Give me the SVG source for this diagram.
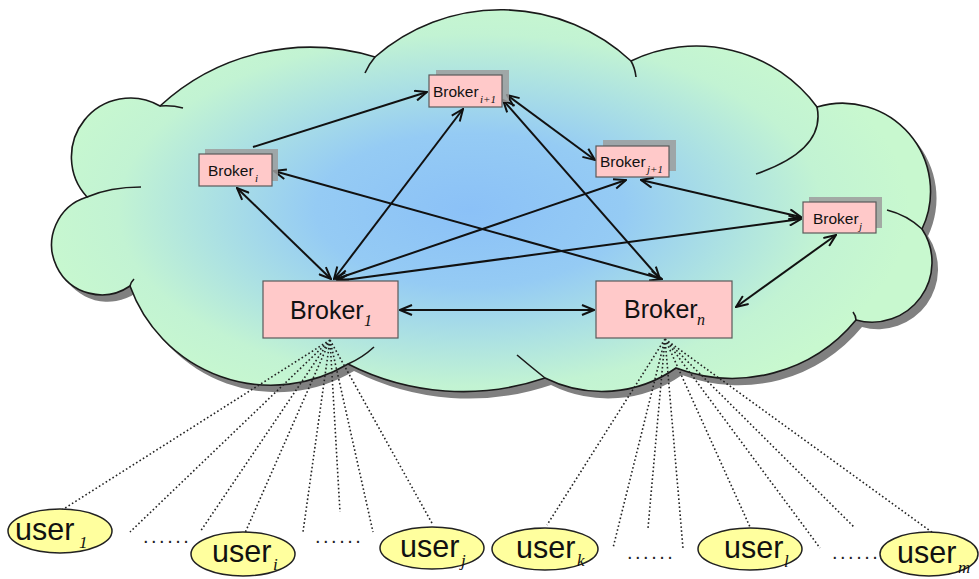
<svg xmlns="http://www.w3.org/2000/svg" width="979" height="579" viewBox="0 0 979 579">
  <defs>
    <radialGradient id="cloudFill" gradientUnits="userSpaceOnUse" cx="470" cy="210" r="440"
      gradientTransform="translate(470,210) scale(1,0.5) translate(-470,-210)">
      <stop offset="0" stop-color="#8bc1f7"/>
      <stop offset="0.35" stop-color="#95cbf4"/>
      <stop offset="0.6" stop-color="#ade2e2"/>
      <stop offset="0.8" stop-color="#c2f3d3"/>
      <stop offset="1" stop-color="#c8f8cf"/>
    </radialGradient>
    <path id="cloudShape" d="M87,197 A59,59 0 0 1 160,106 A221,221 0 0 1 375,57 A191,191 0 0 1 631,61 A150,150 0 0 1 817,107 A88,88 0 0 1 922,229 A60,60 0 0 1 856,320 A160,160 0 0 1 676,368 A128,128 0 0 1 545,378 A254,254 0 0 1 348,364 A150,150 0 0 1 130,286 A50,50 0 1 1 87,197 Z"/>
    <marker id="arr" viewBox="0 0 14 12" refX="13" refY="6" markerWidth="14" markerHeight="12"
      markerUnits="userSpaceOnUse" orient="auto-start-reverse">
      <path d="M1,1 L13,6 L1,11" fill="none" stroke="#111" stroke-width="2"/>
    </marker>
    <style>
      .outline { fill: none; stroke: #1a1a1a; stroke-width: 1.6; }
      .box { fill: #ffc9c9; stroke: #5a5a5a; stroke-width: 1.2; }
      .shadow { fill: #9c9c9c; opacity: 0.85; }
      .lbl { font-family: "Liberation Sans", Arial, sans-serif; fill: #111; }
      .sub { font-family: "Liberation Serif", "Times New Roman", serif; font-style: italic; fill: #111; }
      .link { stroke: #111; stroke-width: 2; fill: none; }
      .both { marker-start: url(#arr); marker-end: url(#arr); }
      .one { marker-end: url(#arr); }
      .fan { stroke: #222; stroke-width: 1.6; stroke-dasharray: 1.6 2.4; fill: none; }
      .user { fill: #ffff9e; stroke: #222; stroke-width: 1.5; }
      .dots { font-family: "Liberation Sans", Arial, sans-serif; font-size: 20px; letter-spacing: 2.5px; fill: #222; }
    </style>
  </defs>

  <!-- cloud with drop shadow -->
  <g id="cloud">
    <use href="#cloudShape" transform="translate(6,7)" fill="#808080"/>
    <use href="#cloudShape" fill="url(#cloudFill)" stroke="#1a1a1a" stroke-width="1.6"/>
    <path class="outline" d="M160,106 Q172,105 183,108 M375,57 Q369,64 365,73 M631,61 Q635,68 636,77 M817,107 Q826,150 756,174 M887,210 Q907,215 922,229 M856,320 Q856,316 853,312 M545,378 Q530,366 517,355 M348,364 Q362,358 374,347 M130,286 Q131,282 134,279 M87,197 Q110,187 141,187"/>
  </g>

  <!-- dotted links from the edge brokers down to users -->
  <g id="user-links">
    <path class="fan" d="M330,340 L62,510 M330,340 L130,532 M330,340 L200,532 M330,340 L245,533 M330,340 L303,532 M330,340 L340,512 M330,340 L373,532 M330,340 L433,525"/>
    <path class="fan" d="M665,339 L547,525 M665,339 L613,548 M665,339 L648,528 M665,339 L683,548 M665,339 L750,527 M665,339 L820,548 M665,339 L855,528 M665,339 L933,533"/>
  </g>

  <!-- broker-to-broker connectors -->
  <g id="connectors">
    <path class="link one" d="M253,147 L427,92"/>
    <path class="link both" d="M331,279 L237,188"/>
    <path class="link both" d="M334,279 L463,109"/>
    <path class="link both" d="M274,171 L662,279"/>
    <path class="link both" d="M507,95 L595,160"/>
    <path class="link both" d="M503,100 L660,279"/>
    <path class="link both" d="M336,279 L626,180"/>
    <path class="link both" d="M641,180 L801,217"/>
    <path class="link both" d="M337,281 L801,219"/>
    <path class="link both" d="M736,307 L836,235"/>
    <path class="link both" d="M400,310 L594,310" stroke="#333"/>
  </g>

  <!-- brokers -->
  <g id="broker-i">
    <rect class="shadow" x="205" y="149" width="73" height="32"/>
    <rect class="box" x="199" y="154" width="73" height="32"/>
    <text class="lbl" x="208" y="176" font-size="15.5">Broker</text>
    <text class="sub" x="255" y="182" font-size="11">i</text>
  </g>
  <g id="broker-i1">
    <rect class="shadow" x="436" y="70" width="73" height="32"/>
    <rect class="box" x="429" y="75" width="73" height="32"/>
    <text class="lbl" x="433" y="97" font-size="15.5">Broker</text>
    <text class="sub" x="480" y="103" font-size="11">i+1</text>
  </g>
  <g id="broker-j1">
    <rect class="shadow" x="603" y="140" width="73" height="31"/>
    <rect class="box" x="596" y="146" width="73" height="31"/>
    <text class="lbl" x="600" y="167" font-size="15.5">Broker</text>
    <text class="sub" x="647" y="173" font-size="11">j+1</text>
  </g>
  <g id="broker-j">
    <rect class="shadow" x="809" y="197" width="73" height="31"/>
    <rect class="box" x="803" y="202" width="73" height="31"/>
    <text class="lbl" x="813" y="224" font-size="15.5">Broker</text>
    <text class="sub" x="859" y="230" font-size="11">j</text>
  </g>
  <g id="broker-1">
    <rect class="box" x="263" y="281" width="135" height="57"/>
    <text class="lbl" x="290" y="319" font-size="25">Broker</text>
    <text class="sub" x="364" y="326" font-size="16">1</text>
  </g>
  <g id="broker-n">
    <rect class="box" x="596" y="281" width="136" height="57"/>
    <text class="lbl" x="624" y="318" font-size="25">Broker</text>
    <text class="sub" x="697" y="325" font-size="16">n</text>
  </g>

  <!-- users -->
  <g id="user-1">
    <ellipse class="user" cx="60" cy="531" rx="52" ry="22"/>
    <text class="lbl" x="15" y="540" font-size="30.5">user</text>
    <text class="sub" x="79" y="548" font-size="17">1</text>
  </g>
  <g id="user-i">
    <ellipse class="user" cx="243" cy="554" rx="52" ry="22"/>
    <text class="lbl" x="212" y="562" font-size="30.5">user</text>
    <text class="sub" x="273" y="570" font-size="17">i</text>
  </g>
  <g id="user-j">
    <ellipse class="user" cx="432" cy="548" rx="52" ry="21"/>
    <text class="lbl" x="400" y="557" font-size="30.5">user</text>
    <text class="sub" x="461" y="566" font-size="17">j</text>
  </g>
  <g id="user-k">
    <ellipse class="user" cx="545" cy="549" rx="53" ry="21"/>
    <text class="lbl" x="516" y="558" font-size="30.5">user</text>
    <text class="sub" x="577" y="566" font-size="17">k</text>
  </g>
  <g id="user-l">
    <ellipse class="user" cx="750" cy="549" rx="52" ry="21"/>
    <text class="lbl" x="724" y="558" font-size="30.5">user</text>
    <text class="sub" x="784" y="567" font-size="17">l</text>
  </g>
  <g id="user-m">
    <ellipse class="user" cx="929" cy="554" rx="49" ry="22"/>
    <text class="lbl" x="897" y="563" font-size="30.5">user</text>
    <text class="sub" x="958" y="573" font-size="17">m</text>
  </g>

  <!-- ellipsis marks between users -->
  <g id="gaps">
    <text class="dots" x="143" y="543">......</text>
    <text class="dots" x="315" y="543">......</text>
    <text class="dots" x="627" y="559">......</text>
    <text class="dots" x="832" y="559">......</text>
  </g>
</svg>
